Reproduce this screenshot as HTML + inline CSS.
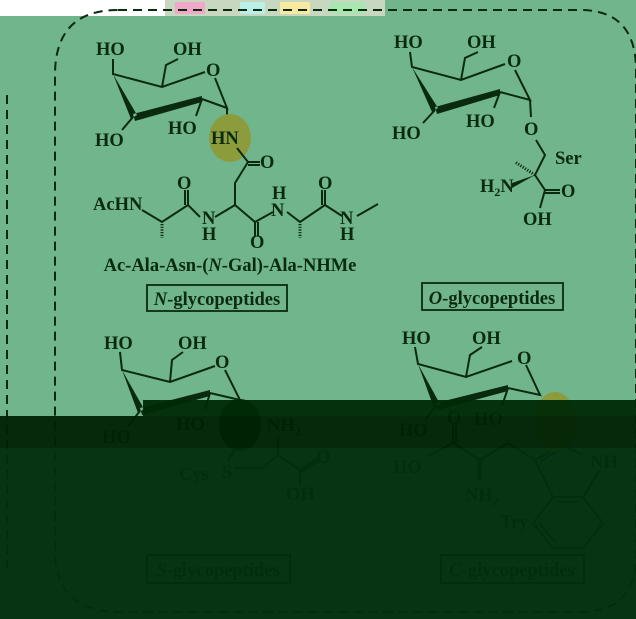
<!DOCTYPE html>
<html><head><meta charset="utf-8"><style>
html,body{margin:0;padding:0;width:636px;height:619px;overflow:hidden;background:#70b58c}
svg{display:block}
text{font-family:"Liberation Serif",serif;font-weight:bold;font-size:18.5px;fill:#0a2a10}
</style></head><body>
<svg width="636" height="619" viewBox="0 0 636 619" xmlns="http://www.w3.org/2000/svg">
<rect width="636" height="619" fill="#70b58c"/>
<rect x="0" y="0" width="165" height="16" fill="#ffffff"/>
<rect x="165" y="0" width="220" height="16" fill="#c8d8c0"/>
<rect x="175" y="2" width="30" height="12" fill="#f0a8c8"/><rect x="240" y="2" width="25" height="12" fill="#b8f0e8"/><rect x="280" y="2" width="30" height="12" fill="#f8e8a0"/><rect x="330" y="2" width="35" height="12" fill="#a8e8b0"/>
<g fill="none" stroke="#0a2a10" stroke-width="2" stroke-dasharray="9,6">
<path d="M118,10 L580,10 Q636,10 636,70 L636,555 Q636,612 580,612 L120,612 Q55,612 55,550 L55,75 Q55,10 118,10"/>
<path d="M7,95 L7,570"/>
</g>
<g stroke="#0a2a10" stroke-width="2" fill="none">
<path d="M113,59 L113,74 L162,87 L205,72 M162,87 L166,65 L178,59 M215,78 L227,108 L202,99 M133,117 L122,130 M202,99 L196,116 M227,108 L227,123"/>
<ellipse cx="230" cy="138" rx="21" ry="24" fill="#8c9c3c" stroke="none"/>
<path d="M237,148 L248,162 L260,162 M248,165 L260,165 M248,162 L235,183 L235,205 L215,217 M200,217 L188,205 L162,222 L142,210 M188,205 L188,190 M185,205 L185,190 M235,205 L255,222 L273,212 M255,222 L255,236 M258,222 L258,236 M287,212 L300,222 L325,205 L342,216 M325,205 L325,190 M322,205 L322,190 M357,216 L378,204"/>
<path d="M162,224 L162,238 M300,224 L300,238" stroke-dasharray="1.2,1.5" stroke-width="3"/>
<path d="M410,52 L412,67 L461,80 L505,64 M461,80 L465,58 L478,52 M515,70 L530,100 L500,92 M435,110 L423,123 M500,92 L494,108 M530,100 L531,117 M536,140 L545,155 L535,175 L545,190 L560,190 M545,193 L560,193 M545,190 L540,208"/>
<path d="M535,175 L515,162" stroke-dasharray="1.2,1.5" stroke-width="3"/>
<path d="M120,352 L122,370 L170,382 L215,366 M170,382 L172,360 L183,352 M225,370 L240,400 L210,393 M140,411 L128,426 M210,393 L205,410 M228,460 L235,450 M234,468 L262,468 L278,455 L278,438 M278,455 L300,470 L318,458 M300,473 L318,461 M300,470 L300,485"/>
<path d="M415,347 L418,364 L466,377 L512,361 M466,377 L470,355 L482,347 M526,365 L540,395 L508,388 M436,406 L425,420 M508,388 L502,406 M453,443 L480,460 L508,443 L535,460 L562,445 L583,455 M453,443 L453,425 M456,443 L456,425 M453,443 L428,456 M535,460 L553,497 L583,497 L600,470 M540,462 L558,450 M553,497 L533,523 L553,548 L583,548 L603,523 L583,497 M558,502 L578,502 M539,523 L556,543"/>
</g>
<g fill="#0a2a10">
<path d="M113,74 L131,119 L137,115 Z M133,114 L202,96 L202,102 L135,121 Z"/>
<path d="M412,67 L432,112 L438,108 Z M435,107 L500,89 L500,95 L437,114 Z"/>
<path d="M122,370 L138,413 L144,409 Z M140,408 L210,390 L210,396 L142,415 Z"/>
<path d="M418,364 L434,408 L440,404 Z M436,403 L508,385 L508,391 L438,410 Z"/>
<path d="M535,175 L512,183 L512,188 Z M478,460 L482,460 L481,480 L477,480 Z"/>
</g>
<text x="96" y="55">HO</text><text x="173" y="55">OH</text><text x="206" y="76">O</text>
<text x="95" y="146">HO</text><text x="168" y="134">HO</text><text x="211" y="144">HN</text>
<text x="260" y="168">O</text><text x="177" y="189">O</text><text x="93" y="210">AcHN</text>
<text x="202" y="224">N</text><text x="202" y="240">H</text><text x="250" y="248">O</text>
<text x="272" y="199">H</text><text x="271" y="216">N</text><text x="318" y="189">O</text>
<text x="340" y="224">N</text><text x="340" y="240">H</text>
<text x="230" y="271" text-anchor="middle">Ac-Ala-Asn-(<tspan font-style="italic">N</tspan>-Gal)-Ala-NHMe</text>
<rect x="147" y="285" width="140" height="26" fill="none" stroke="#0a2a10" stroke-width="1.8"/>
<text x="217" y="305" text-anchor="middle"><tspan font-style="italic">N</tspan>-glycopeptides</text>
<text x="394" y="48">HO</text><text x="467" y="48">OH</text><text x="507" y="67">O</text>
<text x="392" y="139">HO</text><text x="466" y="127">HO</text><text x="524" y="135">O</text>
<text x="555" y="164">Ser</text><text x="480" y="192">H<tspan font-size="12" dy="4">2</tspan><tspan dy="-4">N</tspan></text>
<text x="561" y="197">O</text><text x="523" y="225">OH</text>
<rect x="422" y="283" width="141" height="27" fill="none" stroke="#0a2a10" stroke-width="1.8"/>
<text x="492" y="304" text-anchor="middle"><tspan font-style="italic">O</tspan>-glycopeptides</text>
<text x="104" y="349">HO</text><text x="178" y="349">OH</text><text x="215" y="368">O</text>
<text x="102" y="443">HO</text><text x="176" y="430">HO</text>
<ellipse cx="240" cy="425" rx="21" ry="26" fill="#0a2a10"/>
<text x="267" y="431">NH<tspan font-size="12" dy="4">2</tspan></text>
<text x="222" y="478">S</text><text x="179" y="480">Cys</text><text x="316" y="463">O</text><text x="286" y="500">OH</text>
<rect x="147" y="555" width="143" height="28" fill="none" stroke="#0a2a10" stroke-width="1.8"/>
<text x="218" y="576" text-anchor="middle"><tspan font-style="italic">S</tspan>-glycopeptides</text>
<text x="402" y="344">HO</text><text x="472" y="344">OH</text><text x="517" y="364">O</text>
<text x="399" y="436">HO</text><text x="474" y="425">HO</text>
<ellipse cx="555" cy="422" rx="21" ry="30" fill="#8c9c3c"/>
<text x="447" y="424">O</text><text x="393" y="473">HO</text>
<text x="465" y="501">NH<tspan font-size="12" dy="4">2</tspan></text>
<text x="590" y="468">NH</text><text x="500" y="528">Try</text>
<rect x="441" y="555" width="143" height="28" fill="none" stroke="#0a2a10" stroke-width="1.8"/>
<text x="512" y="576" text-anchor="middle"><tspan font-style="italic">C</tspan>-glycopeptides</text>
<path d="M143,400 L636,400 L636,416 L143,416 Z" fill="#002a06" opacity="0.95"/>
<rect x="0" y="416" width="636" height="32" fill="#002204" opacity="0.95"/>
<rect x="0" y="448" width="636" height="171" fill="#012e0d" opacity="0.95"/>
</svg>
</body></html>
